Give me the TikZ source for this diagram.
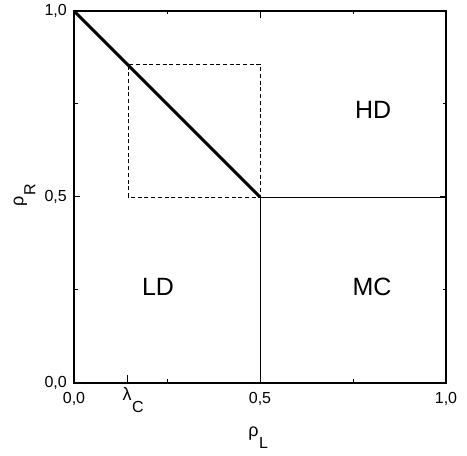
\documentclass[tikz,border=0pt]{standalone}
\usepackage{fontspec}
\setmainfont{Liberation Sans}
\usetikzlibrary{positioning}
\tikzset{
  ticklabel/.style={font=\fontsize{16}{16}\selectfont,inner sep=0pt},
  greeklabel/.style={font=\fontsize{18}{18}\selectfont,inner sep=0pt},
  axislabel/.style={font=\fontsize{16}{16}\selectfont,inner sep=0pt},
  phaselabel/.style={font=\fontsize{25}{25}\selectfont,inner sep=0pt},
  frameline/.style={line width=1.4pt},
  tickline/.style={line width=1pt},
  phaseline/.style={line width=0.8pt},
}
\begin{document}
\begin{tikzpicture}[x=1pt,y=1pt]
  \useasboundingbox (0,0) rectangle (467,456);
  \begin{scope}[shift={(74,73)},x=372pt,y=372pt]
    \coordinate (origin) at (0,0);
    \coordinate (corner) at (1,1);
    \coordinate (topleft) at (0,1);
    \coordinate (triple) at (0.5,0.5);
    \coordinate (lamC) at (0.143,0);
    \coordinate (rightmid) at (1,0.5);
    \coordinate (bottommid) at (0.5,0);
    % ticks
    \foreach \t in {0.25,0.75} {
      \draw[tickline] (\t,0) -- ++(0,3.5pt);
      \draw[tickline] (\t,1) -- ++(0,-3.5pt);
      \draw[tickline] (0,\t) -- ++(3.5pt,0);
      \draw[tickline] (1,\t) -- ++(-3.5pt,0);
    }
    \draw[tickline] (0.5,1) -- ++(0,-7pt);
    \draw[tickline] (0,0.5) -- ++(6pt,0);
    \draw[tickline] (1,0.5) -- ++(-6pt,0);
    \draw[tickline] ([yshift=-1.5pt]lamC) -- ++(0,9pt);
    % dashed window
    \draw[line width=0.8pt,dash pattern=on 4pt off 2.7pt] (0.145,0.5) rectangle (0.5,0.857);
    % phase boundaries
    \draw[line width=3pt] (topleft) -- (triple);
    \draw[phaseline] (triple) -- (rightmid);
    \draw[phaseline] (triple) -- (bottommid);
    \draw[frameline] (origin) rectangle (corner);
    % tick labels
    \node[ticklabel,anchor=east] at ([xshift=-7pt]topleft) {1,0};
    \node[ticklabel,anchor=east] at ([xshift=-7pt]0,0.5) {0,5};
    \node[ticklabel,anchor=east] at ([xshift=-7pt]origin) {0,0};
    \node[ticklabel,anchor=north] at ([yshift=-9pt]origin) {0,0};
    \node[ticklabel,anchor=north] at ([yshift=-9pt]bottommid) {0,5};
    \node[ticklabel,anchor=north] at ([yshift=-9pt]1,0) {1,0};
    \node (lamlabel) [greeklabel,below=4pt of lamC] {λ};
    \node[ticklabel,anchor=base west] at ([yshift=-12pt]lamlabel.base east) {C};
    % axis labels
    \node (rhoL) [greeklabel,anchor=base] at (0.4825,-0.145) {ρ};
    \node[axislabel,anchor=base west] at ([yshift=-12pt]rhoL.base east) {L};
    \node (rhoR) [greeklabel,rotate=90,anchor=base] at (-0.1358,0.489) {ρ};
    \node[axislabel,rotate=90,anchor=base west] at ([xshift=12pt]rhoR.base east) {R};
    % phases
    \node (HD) [phaselabel] at (0.804,0.735) {HD};
    \node (LD) [phaselabel] at (0.226,0.259) {LD};
    \node (MC) [phaselabel] at (0.801,0.259) {MC};
  \end{scope}
\end{tikzpicture}
\end{document}
